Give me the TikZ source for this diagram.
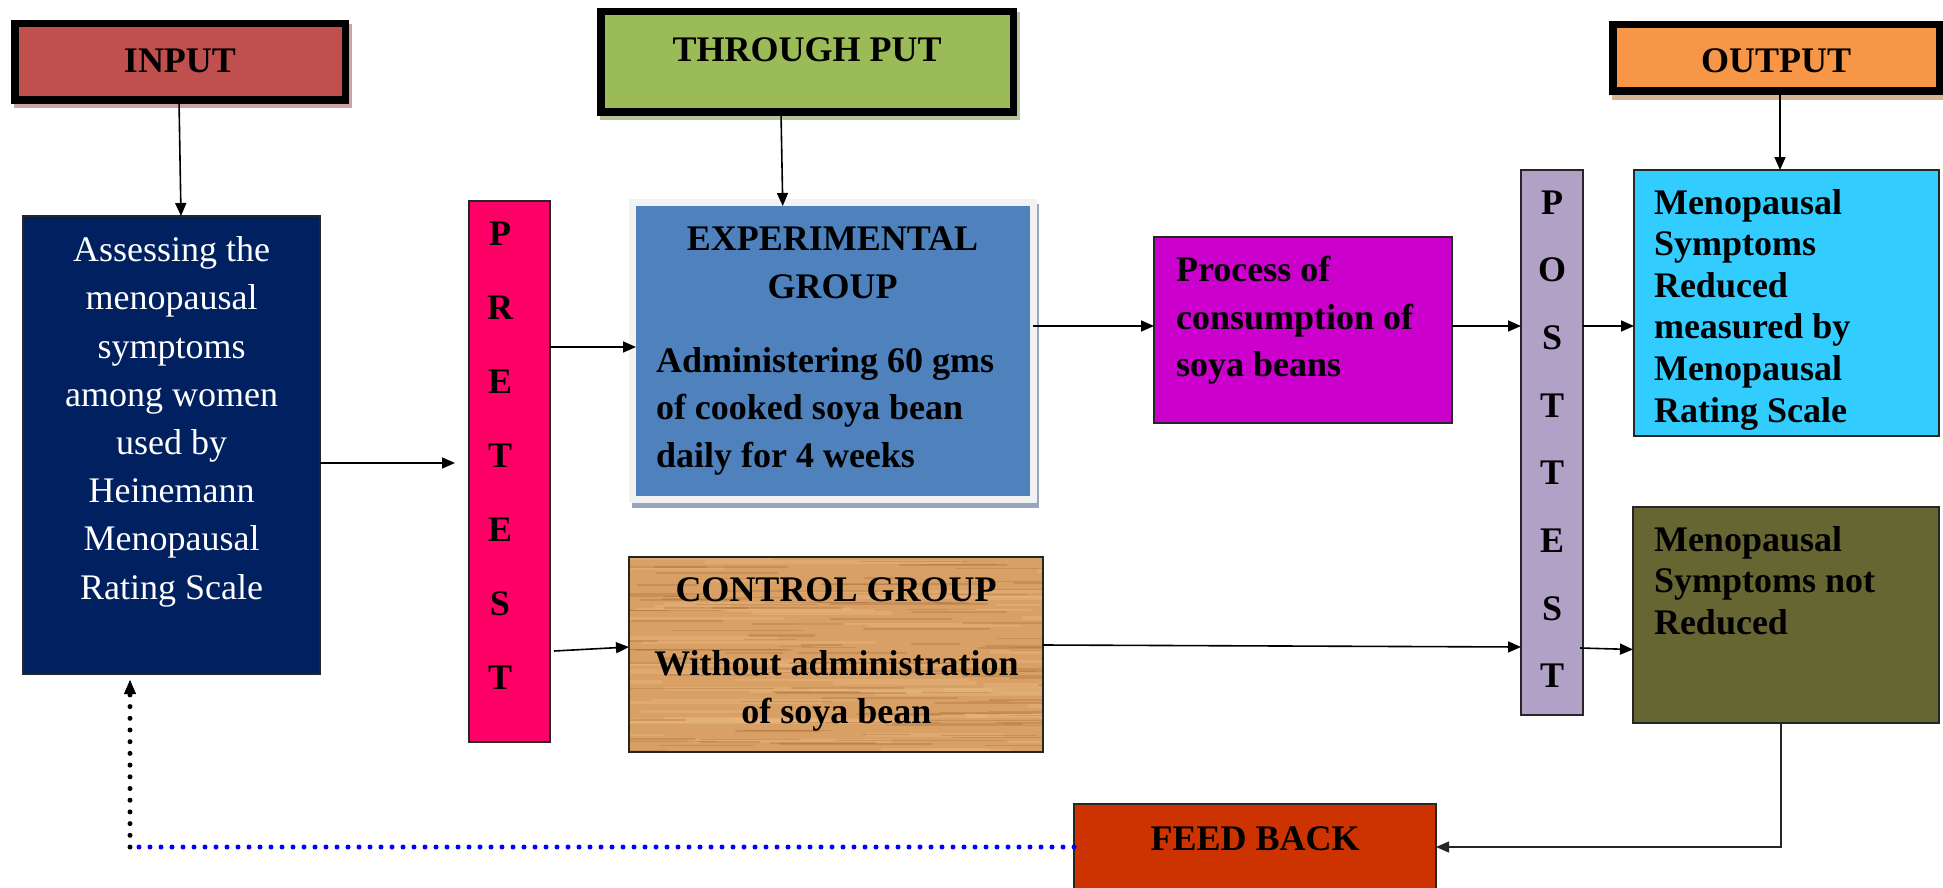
\documentclass[tikz,border=0pt]{standalone}
\usepackage{fontspec}
\setmainfont{Liberation Serif}
\usetikzlibrary{arrows.meta,shadows}
\definecolor{cInput}{HTML}{C0504D}
\definecolor{cThrough}{HTML}{9BBB59}
\definecolor{cOutput}{HTML}{F79646}
\definecolor{cAssess}{HTML}{002060}
\definecolor{cPre}{HTML}{FF0066}
\definecolor{cExp}{HTML}{4F81BD}
\definecolor{cExpBorder}{HTML}{F2F2F2}
\definecolor{cWood}{HTML}{D9A066}
\definecolor{cWoodDark}{HTML}{A0662E}
\definecolor{cWoodLight}{HTML}{EDBE86}
\definecolor{cProc}{HTML}{CC00CC}
\definecolor{cPost}{HTML}{B2A1C7}
\definecolor{cRed}{HTML}{33CCFF}
\definecolor{cNot}{HTML}{666633}
\definecolor{cFeed}{HTML}{CC3300}
\definecolor{sInput}{HTML}{CDA3A3}
\definecolor{sThrough}{HTML}{B5C39B}
\definecolor{sOutput}{HTML}{D5B593}
\definecolor{sExp}{HTML}{98A5BF}
\definecolor{cDotBlue}{HTML}{0000FF}
\newcommand\fsz[1]{\fontsize{36}{#1}\selectfont}
\begin{document}
\begin{tikzpicture}[x=1pt,y=-1pt,
  box/.style={draw=black!85, line width=1.2pt, inner sep=0pt, outer sep=0pt, rectangle},
  titlebox/.style={draw=black, line width=7.5pt, inner sep=0pt, outer sep=0pt, rectangle},
  conn/.style={draw=black, line width=1.6pt, -{Triangle[length=13pt,width=11pt]}},
  lbl/.style={inner sep=0pt, outer sep=0pt, text=black},
  woodline/.style={line cap=round}]
\clip (0,0) rectangle (1943,888);
\fill[white] (0,0) rectangle (1943,888);

% ---------- title boxes ----------
\node[titlebox, fill=cInput, minimum width=330.5pt, minimum height=76.5pt,
  drop shadow={shadow xshift=3pt, shadow yshift=-4.5pt, fill=sInput, draw=sInput, line width=7.5pt, opacity=1}]
  (input) at (180,62) {};
\node[lbl, anchor=base, font=\fsz{43}\bfseries] (inputtxt) at (180,72.7) {INPUT};

\node[titlebox, fill=cThrough, minimum width=412.5pt, minimum height=100.5pt,
  drop shadow={shadow xshift=3pt, shadow yshift=-4.5pt, fill=sThrough, draw=sThrough, line width=7.5pt, opacity=1}]
  (through) at (807,62) {};
\node[lbl, anchor=base, font=\fsz{43}\bfseries] (throughtxt) at (807,61.7) {THROUGH PUT};

\node[titlebox, fill=cOutput, minimum width=326.5pt, minimum height=66.8pt,
  drop shadow={shadow xshift=3pt, shadow yshift=-5pt, fill=sOutput, draw=sOutput, line width=7.5pt, opacity=1}]
  (output) at (1776,57.85) {};
\node[lbl, anchor=base, font=\fsz{43}\bfseries] (outputtxt) at (1776,72.7) {OUTPUT};

% ---------- main boxes ----------
\node[box, fill=cAssess, minimum width=297pt, minimum height=458pt] (assess) at (171.5,445) {};
\node[lbl, anchor=north, align=center, font=\fsz{48.2}, text=white] (assesstxt) at (171.7,227.96)
  {\strut Assessing the\\menopausal\\symptoms\\among women\\used by\\Heinemann\\Menopausal\\Rating Scale};

\node[box, fill=cPre, minimum width=81pt, minimum height=541pt] (pretest) at (509.5,471.5) {};
\node[lbl, anchor=north, align=center, font=\fsz{74.1}\bfseries] (pretxt) at (500,193.13)
  {\strut P\\R\\E\\T\\E\\S\\T};

\node[box, draw=cExpBorder, line width=7pt, fill=cExp, minimum width=400.5pt, minimum height=297pt,
  drop shadow={shadow xshift=2.5pt, shadow yshift=-5pt, fill=sExp, draw=sExp, line width=7pt, opacity=1}]
  (exp) at (832.75,351) {};
\node[lbl, anchor=north, align=center, font=\fsz{48}\bfseries] (exptitle) at (832.5,216.4)
  {\strut EXPERIMENTAL\\GROUP};
\node[lbl, anchor=north west, align=left, font=\fsz{47.5}\bfseries] (expbody) at (656,338.75)
  {\strut Administering 60 gms\\of cooked soya bean\\daily for 4 weeks};

\node[box, fill=cWood, minimum width=414pt, minimum height=195pt] (control) at (836,654.5) {};
\begin{scope}
  \clip (control.north west) rectangle (control.south east);
  \pgfmathsetseed{17}
  \foreach \i in {1,...,60}{
    \pgfmathsetmacro\yy{557+195*rnd}
    \pgfmathsetmacro\xx{570+470*rnd}
    \pgfmathsetmacro\ll{60+200*rnd}
    \pgfmathsetmacro\ww{1.5+3*rnd}
    \draw[woodline, cWoodLight, opacity=0.35, line width=\ww pt] (\xx,\yy) -- ++(\ll,0);
  }
  \foreach \i in {1,...,110}{
    \pgfmathsetmacro\yy{557+195*rnd}
    \pgfmathsetmacro\xx{570+470*rnd}
    \pgfmathsetmacro\ll{30+150*rnd}
    \pgfmathsetmacro\ww{0.6+1.8*rnd}
    \draw[woodline, cWoodDark, opacity=0.3, line width=\ww pt] (\xx,\yy) -- ++(\ll,0);
  }
\end{scope}
\draw[black!85, line width=1.2pt] (control.north west) rectangle (control.south east);
\node[lbl, anchor=base, font=\fsz{48}\bfseries] (ctitle) at (836,601.7) {CONTROL GROUP};
\node[lbl, anchor=north, align=center, font=\fsz{48.3}\bfseries] (cbody) at (836.5,641.19)
  {\strut Without administration\\of soya bean};

\node[box, fill=cProc, minimum width=298pt, minimum height=186pt] (process) at (1303,330) {};
\node[lbl, anchor=north west, align=left, font=\fsz{47.5}\bfseries] (proctxt) at (1176,248.45)
  {\strut Process of\\consumption of\\soya beans};

\node[box, fill=cPost, minimum width=62pt, minimum height=545pt] (post) at (1552,442.5) {};
\node[lbl, anchor=north, align=center, font=\fsz{67.7}\bfseries] (posttxt) at (1552,166.61)
  {\strut P\\O\\S\\T\\T\\E\\S\\T};

\node[box, fill=cRed, minimum width=305pt, minimum height=266pt] (reduced) at (1786.5,303) {};
\node[lbl, anchor=north west, align=left, font=\fsz{41.6}\bfseries] (redtxt) at (1654,184.88)
  {\strut Menopausal\\Symptoms\\Reduced\\measured by\\Menopausal\\Rating Scale};

\node[box, fill=cNot, minimum width=306pt, minimum height=216pt] (notred) at (1786,615) {};
\node[lbl, anchor=north west, align=left, font=\fsz{41.2}\bfseries] (nottxt) at (1654,522.9)
  {\strut Menopausal\\Symptoms not\\Reduced};

\node[box, fill=cFeed, minimum width=362pt, minimum height=86pt] (feedback) at (1255,847) {};
\node[lbl, anchor=base, font=\fsz{43}\bfseries] (feedtxt) at (1255,850) {FEED BACK};

% ---------- connectors ----------
\draw[conn] ([xshift=-1pt]input.south) -- ([xshift=9.5pt]assess.north);
\draw[conn] ([xshift=-26pt]through.south) -- ([xshift=-50pt,yshift=-3.5pt]exp.north);
\draw[conn] ([xshift=4pt]output.south) -- ([xshift=-6.5pt]reduced.north);
\draw[conn, shorten >=14pt] ([yshift=-18pt]assess.east) -- ([yshift=8.5pt]pretest.west);
\draw[conn] ([yshift=124.5pt]pretest.east) -- ([xshift=3.5pt,yshift=4pt]exp.west);
\draw[conn] ([xshift=4pt,yshift=-179.5pt]pretest.east) -- ([yshift=7.5pt]control.west);
\draw[conn] ([yshift=25pt]exp.east) -- ([yshift=4pt]process.west);
\draw[conn] ([yshift=4pt]process.east) -- ([yshift=116.5pt]post.west);
\draw[conn] ([yshift=116.5pt]post.east) -- ([yshift=-23pt]reduced.west);
\draw[conn] ([yshift=9.5pt]control.east) -- ([yshift=-204.5pt]post.west);
\draw[conn] ([xshift=-3pt,yshift=-205.5pt]post.east) -- ([yshift=-34.5pt]notred.west);
\draw[conn, line width=1.3pt, draw=black!85] ([xshift=-5pt]notred.south) |- (feedback.east);

% ---------- feedback dotted loop ----------
\coordinate (fbcorner) at (130,847);
\draw[cDotBlue, line width=5pt, line cap=round, dash pattern=on 0pt off 11pt] (feedback.west) -- (fbcorner);
\draw[black, line width=5pt, line cap=round, dash pattern=on 0pt off 11.7pt,
  -{Triangle[length=14pt,width=12pt,line width=0.5pt]}, shorten >=6pt] (fbcorner) -- (assess.south -| fbcorner);
\end{tikzpicture}
\end{document}
